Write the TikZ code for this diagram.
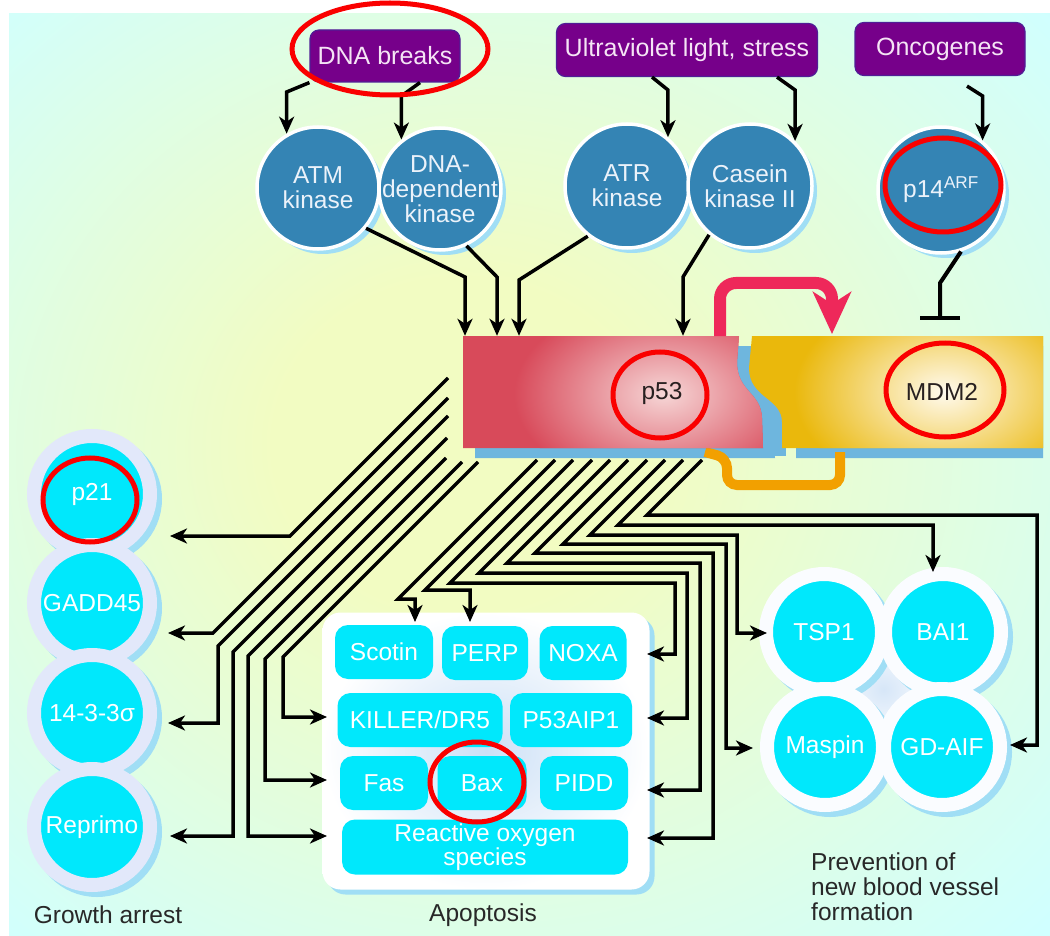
\documentclass[tikz,border=0pt]{standalone}
\usepackage{amsmath}
\usepackage{amssymb}
\usepackage{fontspec}
\setmainfont{Liberation Sans}
\usepackage{tikz}
\usetikzlibrary{arrows.meta,shadows}

\definecolor{bgyel}{RGB}{242,252,194}
\definecolor{bgcyan}{RGB}{208,255,255}
\definecolor{causepurple}{RGB}{118,0,138}
\definecolor{causeline}{RGB}{80,30,150}
\definecolor{causetext}{RGB}{245,228,245}
\definecolor{kinblue}{RGB}{52,132,180}
\definecolor{kintext}{RGB}{235,242,250}
\definecolor{shadeblue}{RGB}{160,222,245}
\definecolor{dockshade}{RGB}{110,182,222}
\definecolor{targetcyan}{RGB}{0,232,252}
\definecolor{ringwhite}{RGB}{250,252,255}
\definecolor{ringlav}{RGB}{226,232,250}
\definecolor{glowblue}{RGB}{204,224,246}
\definecolor{ptred}{RGB}{216,74,90}
\definecolor{ptglow}{RGB}{246,214,214}
\definecolor{mdmgold}{RGB}{234,184,12}
\definecolor{mdmglow}{RGB}{255,250,238}
\definecolor{ptext}{RGB}{40,32,32}
\definecolor{loopred}{RGB}{238,40,90}
\definecolor{loopor}{RGB}{242,160,0}
\definecolor{labelgray}{RGB}{40,40,40}
\definecolor{markred}{RGB}{250,0,0}

\pgfdeclareradialshading{bgglow}{\pgfpoint{-4bp}{2bp}}{color(0bp)=(bgyel); color(9bp)=(bgyel); color(36bp)=(bgcyan); color(50bp)=(bgcyan)}

\newcommand{\diagfont}{\fontsize{24.5}{25}\selectfont}

\begin{document}
\begin{tikzpicture}[x=1pt, y=-1pt,
    cause/.style={rectangle, rounded corners=9pt, fill=causepurple, draw=causeline, line width=1.2pt, text=causetext, font=\fontsize{25}{26}\selectfont, inner sep=0pt},
    kinase/.style={circle, fill=kinblue, draw=white, line width=3.5pt, inner sep=-12pt, text=kintext, align=center, font=\diagfont, general shadow={fill=shadeblue, shadow xshift=5pt, shadow yshift=-5pt}},
    target/.style={circle, fill=targetcyan, draw=#1, line width=14pt, minimum size=116pt, inner sep=0pt, text=white, align=center, font=\diagfont, general shadow={fill=shadeblue, draw=shadeblue, shadow xshift=5pt, shadow yshift=-5pt}},
    target/.default=ringwhite,
    apoframe/.style={rectangle, rounded corners=18pt, inner color=glowblue, outer color=white, minimum width=327pt, minimum height=277pt, general shadow={fill=shadeblue, shadow xshift=5pt, shadow yshift=-5pt}},
    apobox/.style={rectangle, rounded corners=13pt, fill=targetcyan, text=white, align=center, font=\diagfont, inner sep=0pt, minimum height=54pt},
    arr/.style={draw=black, line width=3.5pt, -{Stealth[length=17pt, width=15pt, inset=5pt]}},
    feedback/.style={draw=loopred, line width=12pt, rounded corners=16pt, -{Stealth[length=42pt, width=38pt, inset=12pt]}},
    mdmloop/.style={draw=loopor, line width=10pt, rounded corners=10pt},
    lbl/.style={text=labelgray, font=\diagfont, inner sep=0pt},
    redring/.style={draw=markred, line width=5pt}
  ]

  % Page and background
  \fill[white] (0,0) rectangle (1050,936);
  \shade[shading=bgglow] (9,14) rectangle (1050,936);
  \useasboundingbox (0,0) rectangle (1050,936);

  % Signals at the top
  \node[cause, minimum width=150pt, minimum height=52pt] (dna) at (385,56) {DNA breaks};
  \node[cause, minimum width=261pt, minimum height=53pt] (uv) at (687,50) {Ultraviolet light, stress};
  \node[cause, minimum width=170pt, minimum height=53pt] (onc) at (940,49) {Oncogenes};

  % Kinases and p14ARF
  \node[kinase, minimum size=122pt] (atm) at (318,188) {ATM\\kinase};
  \node[kinase, minimum size=122pt] (dnapk) at (440,189) {DNA-\\dependent\\kinase};
  \node[kinase, minimum size=124pt] (atr) at (627,186) {ATR\\kinase};
  \node[kinase, minimum size=124pt] (ck2) at (750,186) {Casein\\kinase II};
  \node[kinase, minimum size=126pt] (arf) at (941,190) {p14\textsuperscript{ARF}};

  % Signals to kinases
  \draw[arr] (dna.south west) -- (atm.120 |- 0,92) -- (atm.120);
  \draw[arr] ([xshift=35pt]dna.south) -- (dnapk.128 |- 0,96) -- (dnapk.128);
  \draw[arr] ([xshift=-35pt]uv.south) -- (atr.50 |- 0,90) -- (atr.50);
  \draw[arr] ([xshift=90pt]uv.south) -- (ck2.45 |- 0,90) -- (ck2.45);
  \draw[arr] ([xshift=27pt,yshift=-10pt]onc.south) -- (arf.50 |- 0,96) -- (arf.50);

  % p53 and MDM2
  \node[inner sep=0pt, minimum width=300pt, minimum height=112pt] (p53box) at (613,392) {};
  \fill[dockshade] (736,346) rectangle (786,456);
  \fill[dockshade, shift={(12,10)}] (463,336) -- (739,336) -- (737,362) .. controls (737,392) and (761,392) .. (762,418) -- (763,448) -- (463,448) -- cycle;
  \begin{scope}
    \clip (740,330) rectangle (1043,470);
    \fill[dockshade, shift={(14,10)}] (752,336) -- (1043,336) -- (1043,448) -- (782,448) -- (782,422) .. controls (782,398) and (749,398) .. (749,368) -- cycle;
  \end{scope}
  \draw[mdmloop] (705,452) -- (727,458) -- (727,485) -- (840,485) -- (840,452);
  \begin{scope}
    \clip (463,336) -- (739,336) -- (737,362) .. controls (737,392) and (761,392) .. (762,418) -- (763,448) -- (463,448) -- cycle;
    \fill[ptred] (460,330) rectangle (770,450);
    \shade[inner color=ptglow, outer color=ptred] (664,394) ellipse (150 and 96);
  \end{scope}
  \begin{scope}
    \clip (752,336) -- (1043,336) -- (1043,448) -- (782,448) -- (782,422) .. controls (782,398) and (749,398) .. (749,368) -- cycle;
    \fill[mdmgold] (745,330) rectangle (1045,450);
    \shade[inner color=mdmglow, outer color=mdmgold] (944,392) ellipse (150 and 100);
  \end{scope}
  \node[lbl, text=ptext] (p53) at (662,393) {p53};
  \node[lbl, text=ptext] (mdm2) at (942,392) {MDM2};

  % Kinases to p53
  \draw[arr] (atm.-40) -- (465,277) -- (465,0 |- p53box.north);
  \draw[arr] (dnapk.-65) -- (497,277) -- (497,0 |- p53box.north);
  \draw[arr] (atr.-128) -- (519,280) -- (519,0 |- p53box.north);
  \draw[arr] (ck2.-130) -- (683,277) -- (683,0 |- p53box.north);

  % Feedback loop and p14ARF block
  \draw[feedback] (720,336) -- (720,283) -- (832,283) -- (832,334);
  \draw[line width=4pt, -{Bar[width=40pt]}] (arf.-72) -- (940,283) -- (940,320);

  % Growth arrest targets
  \node[target=ringlav] (p21) at (92,494) {p21};
  \node[target=ringlav] (gadd45) at (92,603) {GADD45};
  \node[target=ringlav] (sfn) at (92,713) {14-3-3σ};
  \node[target=ringlav] (reprimo) at (92,827) {Reprimo};

  % Apoptosis targets
  \node[apoframe] (apo) at (486,751) {};
  \node[apobox, minimum width=98pt] (scotin) at (384,652) {Scotin};
  \node[apobox, minimum width=86pt] (perp) at (485,653) {PERP};
  \node[apobox, minimum width=87pt] (noxa) at (583,653) {NOXA};
  \node[apobox, minimum width=165pt] (killer) at (420,720) {KILLER/DR5};
  \node[apobox, minimum width=122pt] (aip) at (571,720) {P53AIP1};
  \node[apobox, minimum width=88pt] (fas) at (384,783) {Fas};
  \node[apobox, minimum width=89pt] (bax) at (482,783) {Bax};
  \node[apobox, minimum width=88pt] (pidd) at (584,783) {PIDD};
  \node[apobox, minimum width=286pt, minimum height=55pt, font=\fontsize{24.5}{21}\selectfont] (ros) at (485,847) {Reactive oxygen\\species};

  % Blood vessel targets
  \fill[white] (824,632) rectangle (943,747);
  \shade[inner color=glowblue!80!white, outer color=white] (824,632) rectangle (943,747);
  \node[target] (tsp1) at (824,632) {TSP1};
  \node[target] (bai1) at (943,632) {BAI1};
  \node[target] (maspin) at (825,747) {Maspin};
  \node[target] (gdaif) at (942,747) {GD-AIF};

  % Lines leaving the left side of p53
  \coordinate (g1) at (448,378);
  \coordinate (g2) at (448,398);
  \coordinate (g3) at (448,416);
  \coordinate (g4) at (447,438);
  \coordinate (g5) at (446,458);
  \coordinate (g6) at (462,462);
  \coordinate (g7) at (478,462);
  \draw[arr] (g1) -- ++(-158,158) -- ++(-120,0);
  \draw[arr] (g2) -- ++(-235,235) -- ++(-45,0);
  \draw[arr] (g3) -- ++(-230,230) -- ++(0,77) -- ++(-50,0);
  \draw[arr] (g4) -- ++(-214,214) -- ++(0,184) -- ++(-63,0);
  \draw[arr] (g5) -- ++(-198,198) -- ++(0,180) -- ++(79,0);
  \draw[arr] (g6) -- ++(-197,197) -- ++(0,121) -- ++(62,0);
  \draw[arr] (g7) -- ++(-195,195) -- ++(0,60) -- ++(44,0);

  % Lines leaving the bottom of p53
  \coordinate (d1) at (537,460);
  \coordinate (d2) at (555,460);
  \coordinate (d3) at (573,460);
  \coordinate (d4) at (592,460);
  \coordinate (d5) at (610,460);
  \coordinate (d6) at (628,460);
  \coordinate (d7) at (647,460);
  \coordinate (d8) at (665,460);
  \coordinate (d9) at (683,460);
  \coordinate (d10) at (702,460);
  \draw[arr] (d1) -- ++(-139,139) -- ++(17,0) -- ++(0,23);
  \draw[arr] (d2) -- ++(-130,130) -- ++(45,0) -- ++(0,32);
  \draw[arr] (d3) -- ++(-123,123) -- ++(225,0) -- ++(0,71) -- ++(-28,0);
  \draw[arr] (d4) -- ++(-113,113) -- ++(208,0) -- ++(0,145) -- ++(-40,0);
  \draw[arr] (d5) -- ++(-103,103) -- ++(193,0) -- ++(0,227) -- ++(-53,0);
  \draw[arr] (d6) -- ++(-93,93) -- ++(178,0) -- ++(0,285) -- ++(-66,0);
  \draw[arr] (d7) -- ++(-84,84) -- ++(163,0) -- ++(0,204) -- ++(27,0);
  \draw[arr] (d8) -- ++(-75,75) -- ++(147,0) -- ++(0,98) -- ++(30,0);
  \draw[arr] (d9) -- ++(-65,65) -- ++(315,0) -- ++(0,47);
  \draw[arr] (d10) -- ++(-55,55) -- ++(390,0) -- ++(0,230) -- ++(-27,0);

  % Group labels
  \node[lbl] (growth) at (108,915) {Growth arrest};
  \node[lbl] (apoptosis) at (483,915) {Apoptosis};
  \node[lbl, anchor=west, align=left, font=\fontsize{24.5}{25}\selectfont] (angio) at (811,887) {Prevention of\\new blood vessel\\formation};

  % Red marks
  \draw[redring] (390,49) ellipse (98 and 46);
  \draw[redring] (943,185) ellipse (58 and 47);
  \draw[redring] (660,395) ellipse (47 and 43);
  \draw[redring] (945,390) ellipse (59 and 47);
  \draw[redring] (90,500) ellipse (47 and 42);
  \draw[redring] (477,782) ellipse (47 and 40);

\end{tikzpicture}
\end{document}
